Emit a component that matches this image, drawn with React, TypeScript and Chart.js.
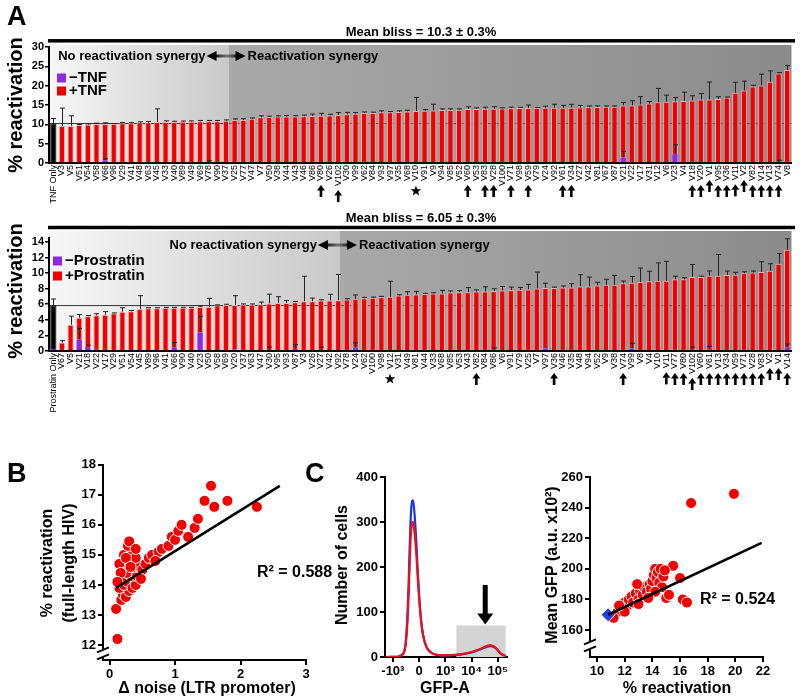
import React, { useEffect, useRef } from 'react';
import { Chart, registerables } from 'chart.js';
Chart.register(...registerables);

const FONT = '"Liberation Sans", Arial, Helvetica, sans-serif';
const RED = '#f00000';
const PURPLE = '#8a2be2';

// ---------------- Panel A (top): TNF ----------------
const tnfLabels = ['TNF Only','V3','V5','V51','V54','V58','V66','V96','V29','V41','V48','V63','V45','V33','V40','V89','V49','V69','V78','V90','V37','V25','V77','V47','V7','V50','V38','V44','V43','V46','V86','V80','V26','V102','V30','V99','V62','V84','V93','V97','V35','V68','V10','V91','V9','V94','V85','V52','V60','V53','V83','V28','V100','V71','V98','V59','V79','V24','V92','V61','V34','V27','V42','V81','V67','V87','V21','V22','V17','V31','V12','V6','V23','V4','V18','V20','V1','V95','V36','V11','V2','V82','V14','V13','V74','V8'];
const tnfPlus = [10.2,9.6,9.6,9.85,9.94,10.1,10.1,10.1,10.28,10.28,10.45,10.45,10.6,10.6,10.6,10.65,10.7,10.8,10.8,10.8,10.95,11.1,11.15,11.45,11.8,11.9,12.0,12.0,12.05,12.1,12.17,12.25,12.3,12.43,12.6,12.75,12.9,12.95,13.1,13.1,13.2,13.35,13.45,13.5,13.6,13.7,13.72,13.8,13.95,13.97,14.05,14.06,14.08,14.14,14.2,14.2,14.22,14.3,14.3,14.3,14.32,14.38,14.4,14.47,14.55,14.56,14.9,14.9,15.16,15.42,15.68,15.85,15.94,16.02,16.19,16.45,16.45,16.54,16.97,18.17,18.78,19.81,20.07,21.02,23.17,24.03];
const tnfPlusErr = [1.3,4.6,2.6,0.1,0.2,0.2,0.3,0.1,0.2,0.2,0.2,0.3,3.4,0.3,0.2,0.2,0.2,0.2,0.2,0.2,0.2,0.3,0.3,0.2,0.4,0.2,0.2,0.3,0.2,0.3,0.5,0.6,0.3,0.6,0.5,0.3,0.3,0.2,0.4,0.2,0.3,0.3,3.5,0.3,1.6,0.3,0.3,0.2,0.6,0.3,0.4,0.5,0.2,0.3,0.2,0.8,0.1,0.4,0.9,0.6,0.85,0.5,0.35,0.3,0.2,0.2,0.77,1.2,2.0,0.5,3.6,1.7,1.0,2.3,1.2,1.5,4.5,0.6,0.1,2.7,2.4,0.3,2.9,2.8,0.2,1.2];
const tnfMinus = [0.2,0.1,0.1,0.1,0.1,0.1,0.8,0.1,0.1,0.1,0.1,0.1,0.1,0.1,0.1,0.1,0.1,0.1,0.3,0.1,0.1,0.1,0.1,0.1,0.3,0.1,0.1,0.1,0.1,0.1,0.2,0.1,0.1,0.1,0.2,0.1,0.1,0.1,0.1,0.1,0.1,0.1,0.1,0.1,0.1,0.1,0.1,0.1,0.2,0.1,0.1,0.1,0.1,0.1,0.1,0.1,0.1,0.1,0.1,0.1,0.1,0.1,0.1,0.1,0.1,0.2,1.5,0.1,0.1,0.1,0.1,0.1,2.4,0.1,0.3,0.1,0.1,0.2,0.1,0.1,0.1,0.1,0.4,0.1,0.4,0.1];
const tnfMinusErr = [0,0,0,0,0,0,0.3,0,0,0,0,0,0,0,0,0,0,0,0.3,0,0,0,0,0,0,0,0,0,0,0,0,0,0,0,0,0,0,0,0,0,0,0,0,0,0,0,0,0,0,0,0,0,0,0,0,0,0,0,0,0,0,0,0,0,0,0,1.5,0,0,0,0,0,2.3,0,0,0,0,0,0,0,0,0,0,0,0.3,0];
const tnfArrows = ['V80','V102','V60','V83','V28','V71','V59','V61','V34','V18','V20','V1','V95','V36','V11','V2','V82','V14','V13','V74'];
const tnfStars = ['V10'];
const tnfTicks = [0,5,10,15,20,25,30];

// ---------------- Panel A (bottom): Prostratin ----------------
const proLabels = ['Prostratin Only','V67','V5','V21','V18','V22','V17','V29','V51','V54','V45','V89','V96','V41','V66','V90','V40','V23','V50','V58','V69','V20','V37','V63','V47','V30','V95','V93','V87','V3','V26','V27','V42','V92','V78','V24','V62','V100','V98','V12','V31','V49','V81','V44','V33','V68','V85','V53','V43','V82','V84','V86','V6','V91','V79','V25','V7','V97','V36','V46','V35','V48','V94','V52','V9','V38','V74','V99','V8','V4','V10','V11','V77','V80','V102','V60','V61','V13','V34','V59','V71','V28','V83','V2','V1','V14'];
const proPlus = [5.83,1.08,3.37,4.27,4.45,4.58,4.65,4.84,5.05,5.1,5.4,5.5,5.5,5.55,5.55,5.55,5.55,5.66,5.66,5.87,5.9,5.9,5.94,5.94,5.98,6.09,6.17,6.17,6.26,6.39,6.39,6.48,6.48,6.52,6.61,6.69,6.78,6.82,6.91,6.95,7.12,7.21,7.25,7.3,7.38,7.38,7.51,7.55,7.55,7.64,7.64,7.68,7.77,7.8,7.85,7.9,8.03,8.1,8.1,8.15,8.15,8.29,8.29,8.42,8.5,8.5,8.68,8.76,8.85,8.94,9.0,9.0,9.2,9.2,9.5,9.5,9.67,9.67,9.76,9.8,9.97,10.06,10.15,10.3,11.2,13.0];
const proPlusErr = [0.85,0.25,1.1,0.4,0.1,0.2,0.4,0.05,0.5,0.1,1.7,0.05,0.05,0.05,0.05,0.05,0.05,0.1,1.1,0.05,0.1,1.2,0.1,0.1,0.3,1.2,0.8,0.3,0.1,3.2,0.4,0.1,0.8,3.3,0.1,0.5,0.1,0.1,0.1,2.0,0.1,0.4,0.4,0.1,0.1,0.4,0.2,0.2,0.6,0.2,0.6,0.3,0.5,0.4,0.3,0.65,2.1,0.6,0.1,0.2,0.5,1.5,1.2,0.4,0.7,1.2,0.3,0.8,1.8,1.3,2.3,2.5,0.4,0.2,1.6,0.1,0.6,2.7,0.5,0.3,0.2,0.2,1.3,0.9,1.3,1.4];
const proMinus = [0.3,0.15,0.05,1.5,0.55,0.3,0.3,0.05,0.05,0.05,0.05,0.05,0.05,0.05,0.5,0.05,0.05,2.45,0.05,0.05,0.05,0.25,0.05,0.05,0.05,0.2,0.05,0.05,0.3,0.2,0.05,0.2,0.05,0.05,0.05,0.45,0.05,0.05,0.05,0.05,0.05,0.05,0.05,0.2,0.05,0.05,0.05,0.05,0.05,0.05,0.05,0.2,0.05,0.05,0.05,0.05,0.05,0.4,0.05,0.05,0.05,0.05,0.05,0.05,0.05,0.05,0.05,0.4,0.05,0.05,0.05,0.05,0.2,0.05,0.2,0.05,0.3,0.05,0.05,0.05,0.2,0.05,0.2,0.05,0.05,0.5];
const proMinusErr = [0,0,0,1.4,0.2,0,0,0,0,0,0,0,0,0,0.6,0,0,2.0,0,0,0,0,0,0,0,0.3,0,0,0.5,0,0,0.3,0,0,0,0.6,0,0,0,0,0,0,0,0,0,0,0,0,0,0,0,0.2,0,0,0,0,0,0,0,0,0,0,0,0,0,0,0,0.6,0,0,0,0,0,0,0.3,0,0.3,0,0,0,0,0,0,0,0,0.4];
const proArrows = ['V82','V36','V74','V11','V77','V80','V102','V60','V61','V13','V34','V59','V71','V28','V83','V2','V1','V14'];
const proStars = ['V12'];
const proTicks = [0,2,4,6,8,10,12,14];

// ---------------- Panel B ----------------
const bNoise = [0.12,0.1,0.18,0.2,0.15,0.25,0.3,0.22,0.28,0.35,0.4,0.18,0.33,0.42,0.2,0.26,0.38,0.15,0.3,0.45,0.22,0.35,0.28,0.3,0.4,0.5,0.55,0.6,0.65,0.75,0.8,0.9,0.95,1.0,1.05,1.1,1.2,1.3,1.35,1.45,1.55,1.6,1.8,2.25,0.25,0.17,0.32,0.4,0.12,0.48,0.7];
const bReact = [12.2,13.2,13.5,13.7,13.9,13.6,13.8,14.0,14.1,13.9,14.0,14.2,14.3,14.3,14.5,14.4,14.6,14.7,14.8,14.6,15.0,15.1,15.3,15.45,14.9,14.5,14.7,14.9,15.0,15.1,15.2,15.3,15.6,15.5,15.8,16.0,15.6,15.9,16.2,16.8,17.3,16.6,16.8,16.6,14.9,14.4,14.6,15.2,14.1,14.2,14.8];
const bFitX = [0.1, 2.6];
const bFitY = [13.9, 17.3];
const bXTicks = [0,1,2,3];
const bYTicks = [12,13,14,15,16,17,18];

// ---------------- Panel C (histogram) ----------------
const cHistTicks = [-1,0,1,2,3];
const cHistTickLabels = ['-10\u00b3','0','10\u00b3','10\u2074','10\u2075'];
const cBlueX = [-1.25,-0.8,-0.6,-0.5,-0.42,-0.35,-0.3,-0.25,-0.2,-0.12,-0.04,0.05,0.15,0.3,0.5,0.8,1.2,1.6,2.0,2.3,2.55,2.75,2.95,3.1,3.3];
const cBlueY = [0,1,8,40,130,260,330,348,335,270,180,100,50,20,8,4,4,6,10,16,22,24,18,8,2];
const cRedX = [-1.25,-0.8,-0.6,-0.5,-0.42,-0.35,-0.3,-0.25,-0.2,-0.12,-0.04,0.05,0.15,0.3,0.5,0.8,1.2,1.6,2.0,2.3,2.55,2.75,2.95,3.1,3.3];
const cRedY = [0,1,7,35,110,220,285,300,290,240,165,95,48,20,8,4,4,6,11,17,24,26,19,8,2];
const cYTicks = [0,100,200,300,400];

// ---------------- Panel C (scatter) ----------------
const dReact = [11.5,11.8,12.0,12.2,12.3,12.5,12.6,12.8,13.0,13.1,13.3,13.4,13.6,13.8,13.9,14.0,14.1,14.2,14.3,14.4,14.5,14.6,14.7,14.8,15.0,15.5,16.0,16.2,16.5,13.0,12.0,11.2,14.2,13.7,15.2,16.8,19.9,12.9,14.9,11.6];
const dGfp = [172,175,178,176,180,182,178,184,180,186,183,188,185,190,187,192,196,200,194,198,191,200,188,195,181,202,194,180,178,177,172,168,185,181,183,243,249,190,199,176];
const dCtrlReact = [10.8];
const dCtrlGfp = [170];
const dFitX = [10.8, 21.9];
const dFitY = [170, 217];
const dXTicks = [10,12,14,16,18,20,22];
const dYTicks = [160,180,200,220,240,260];

// ---------------- helpers ----------------
function vText(ctx: CanvasRenderingContext2D, text: string, cx: number, cy: number, font: string) {
  ctx.save();
  ctx.translate(cx, cy);
  ctx.rotate(-Math.PI / 2);
  ctx.font = font;
  ctx.fillStyle = '#000';
  ctx.textAlign = 'center';
  ctx.textBaseline = 'middle';
  ctx.fillText(text, 0, 0);
  ctx.restore();
}
function hText(ctx: CanvasRenderingContext2D, text: string, x: number, y: number, font: string, align: CanvasTextAlign = 'left') {
  ctx.save();
  ctx.font = font;
  ctx.fillStyle = '#000';
  ctx.textAlign = align;
  ctx.textBaseline = 'middle';
  ctx.fillText(text, x, y);
  ctx.restore();
}
function upArrow(ctx: CanvasRenderingContext2D, x: number, yTop: number) {
  ctx.save();
  ctx.fillStyle = '#000';
  ctx.beginPath();
  ctx.moveTo(x, yTop);
  ctx.lineTo(x - 4, yTop + 5.5);
  ctx.lineTo(x + 4, yTop + 5.5);
  ctx.closePath();
  ctx.fill();
  ctx.fillRect(x - 1.3, yTop + 5, 2.6, 7);
  ctx.restore();
}
function starShape(ctx: CanvasRenderingContext2D, cx: number, cy: number, r: number) {
  ctx.save();
  ctx.fillStyle = '#000';
  ctx.beginPath();
  for (let k = 0; k < 10; k++) {
    const rr = k % 2 === 0 ? r : r * 0.42;
    const ang = -Math.PI / 2 + (k * Math.PI) / 5;
    const px = cx + rr * Math.cos(ang);
    const py = cy + rr * Math.sin(ang);
    if (k === 0) ctx.moveTo(px, py); else ctx.lineTo(px, py);
  }
  ctx.closePath();
  ctx.fill();
  ctx.restore();
}
function yBreak(ctx: CanvasRenderingContext2D, x: number, y: number) {
  ctx.save();
  ctx.fillStyle = '#fff';
  ctx.fillRect(x - 3, y - 4, 6, 8);
  ctx.strokeStyle = '#000';
  ctx.lineWidth = 2;
  ctx.beginPath();
  ctx.moveTo(x - 6, y - 1); ctx.lineTo(x + 6, y - 6);
  ctx.moveTo(x - 6, y + 6); ctx.lineTo(x + 6, y + 1);
  ctx.stroke();
  ctx.restore();
}

type BarCfg = {
  labels: string[]; plus: number[]; plusErr: number[]; minus: number[]; minusErr: number[];
  yMax: number; yTicks: number[]; padTop: number; height: number; areaBottom: number;
  boundary: number; legendA: string; legendB: string; header: string;
  headerLineY: number; headerTextY: number; bgTop: number; synY: number; legY: number[]; legX: number;
  titleY: number; arrows: string[]; stars: string[];
};

function barChart(canvas: HTMLCanvasElement, c: BarCfg) {
  const deco = {
    id: 'barDeco',
    beforeDraw(chart: any) {
      const { ctx, chartArea: a, scales: { x, y } } = chart;
      const bx = x.getPixelForValue(c.boundary);
      ctx.save();
      let g = ctx.createLinearGradient(a.left, 0, bx, 0);
      g.addColorStop(0, '#f7f7f7');
      g.addColorStop(1, '#c9c9c9');
      ctx.fillStyle = g;
      ctx.fillRect(a.left, c.bgTop, bx - a.left, a.bottom - c.bgTop);
      g = ctx.createLinearGradient(bx, 0, a.right, 0);
      g.addColorStop(0, '#a9a9a9');
      g.addColorStop(1, '#8b8b8b');
      ctx.fillStyle = g;
      ctx.fillRect(bx, c.bgTop, a.right - bx, a.bottom - c.bgTop);
      const yc = y.getPixelForValue(c.plus[0]);
      ctx.strokeStyle = '#333';
      ctx.lineWidth = 1;
      ctx.beginPath(); ctx.moveTo(a.left, yc); ctx.lineTo(bx, yc); ctx.stroke();
      ctx.setLineDash([4, 3]);
      ctx.strokeStyle = '#555';
      ctx.beginPath(); ctx.moveTo(bx, yc); ctx.lineTo(a.right, yc); ctx.stroke();
      ctx.restore();
    },
    afterDatasetsDraw(chart: any) {
      const { ctx, scales: { y } } = chart;
      const sets = [[1, c.plus, c.plusErr], [0, c.minus, c.minusErr]] as const;
      ctx.save();
      ctx.strokeStyle = '#222';
      ctx.lineWidth = 1;
      sets.forEach(([di, vals, errs]) => {
        const meta = chart.getDatasetMeta(di);
        meta.data.forEach((el: any, i: number) => {
          const e = errs[i];
          if (!e) return;
          const x = Math.round(el.x) + 0.5;
          const y0 = y.getPixelForValue(vals[i]);
          const y1 = y.getPixelForValue(vals[i] + e);
          ctx.beginPath();
          ctx.moveTo(x, y0); ctx.lineTo(x, y1);
          ctx.moveTo(x - 2.5, y1); ctx.lineTo(x + 2.5, y1);
          ctx.stroke();
        });
      });
      ctx.restore();
    },
    afterDraw(chart: any) {
      const { ctx, scales: { x } } = chart;
      ctx.save();
      ctx.fillStyle = '#000';
      ctx.fillRect(48, c.headerLineY - 1.75, 747, 3.5);
      ctx.restore();
      hText(ctx, c.header, 421, c.headerTextY, `bold 13px ${FONT}`, 'center');
      const bx = x.getPixelForValue(c.boundary);
      hText(ctx, 'No reactivation synergy', bx - 23, c.synY, `bold 13px ${FONT}`, 'right');
      hText(ctx, 'Reactivation synergy', bx + 19, c.synY, `bold 13px ${FONT}`, 'left');
      ctx.save();
      const g = ctx.createLinearGradient(bx - 12, 0, bx + 8, 0);
      g.addColorStop(0, '#222'); g.addColorStop(0.5, '#777'); g.addColorStop(1, '#222');
      ctx.fillStyle = g;
      ctx.fillRect(bx - 14, c.synY - 1.5, 24, 3);
      ctx.fillStyle = '#000';
      ctx.beginPath();
      ctx.moveTo(bx - 22, c.synY); ctx.lineTo(bx - 12, c.synY - 5); ctx.lineTo(bx - 12, c.synY + 5); ctx.closePath(); ctx.fill();
      ctx.beginPath();
      ctx.moveTo(bx + 17, c.synY); ctx.lineTo(bx + 7, c.synY - 5); ctx.lineTo(bx + 7, c.synY + 5); ctx.closePath(); ctx.fill();
      ctx.restore();
      ctx.save();
      ctx.fillStyle = PURPLE;
      ctx.fillRect(c.legX, c.legY[0] - 4.5, 9, 9);
      ctx.fillStyle = RED;
      ctx.fillRect(c.legX, c.legY[1] - 4.5, 9, 9);
      ctx.restore();
      hText(ctx, c.legendA, c.legX + 12, c.legY[0], `bold 15px ${FONT}`);
      hText(ctx, c.legendB, c.legX + 12, c.legY[1], `bold 15px ${FONT}`);
      vText(ctx, '% reactivation', 16, c.titleY, `bold 20px ${FONT}`);
      ctx.save();
      ctx.font = `9px ${FONT}`;
      const labelTop = x.top + 2;
      c.arrows.forEach((l) => {
        const i = c.labels.indexOf(l);
        if (i < 0) return;
        const w = ctx.measureText(l).width;
        upArrow(ctx, x.getPixelForTick(i), labelTop + w + 4);
      });
      c.stars.forEach((l) => {
        const i = c.labels.indexOf(l);
        if (i < 0) return;
        const w = ctx.measureText(l).width;
        starShape(ctx, x.getPixelForTick(i), labelTop + w + 10, 5.5);
      });
      ctx.restore();
    },
  };
  return new Chart(canvas, {
    type: 'bar',
    data: {
      labels: c.labels,
      datasets: [
        { label: c.legendA, data: c.minus, backgroundColor: PURPLE, borderColor: '#e8d8ff', borderWidth: 0.5, grouped: false, barPercentage: 0.72, categoryPercentage: 1 } as any,
        { label: c.legendB, data: c.plus, backgroundColor: c.plus.map((_, i) => (i === 0 ? '#000' : RED)), borderColor: c.plus.map((_, i) => (i === 0 ? '#000' : '#ffb0b0')), borderWidth: 1, borderSkipped: 'bottom', grouped: false, barPercentage: 0.72, categoryPercentage: 1 } as any,
      ],
    },
    options: {
      animation: false,
      responsive: false,
      maintainAspectRatio: false,
      layout: { padding: { top: c.padTop, right: 5, left: 0, bottom: 0 } },
      plugins: { legend: { display: false }, tooltip: { enabled: false } },
      scales: {
        x: {
          grid: { display: false, drawTicks: false },
          border: { display: true, color: '#000', width: 2 },
          ticks: { autoSkip: false, minRotation: 90, maxRotation: 90, padding: 2, color: '#000', font: { size: 9, family: FONT } },
          afterFit: (s: any) => { s.height = c.height - c.areaBottom; },
        },
        y: {
          min: 0,
          max: c.yMax,
          afterBuildTicks: (s: any) => { s.ticks = c.yTicks.map((v) => ({ value: v })); },
          grid: { drawOnChartArea: false, drawTicks: true, tickLength: 4, color: '#000', lineWidth: 1.5 },
          border: { display: true, color: '#000', width: 2 },
          ticks: { autoSkip: false, padding: 1, color: '#000', font: { size: 11, weight: 'bold', family: FONT } },
          afterFit: (s: any) => { s.width = 49; },
        },
      },
    } as any,
    plugins: [deco],
  });
}

function axisOpts(min: number, max: number, ticks: number[], width: number | null, height: number | null, labels?: string[]) {
  return {
    type: 'linear',
    min, max,
    afterBuildTicks: (s: any) => { s.ticks = ticks.map((v) => ({ value: v })); },
    grid: { drawOnChartArea: false, drawTicks: true, tickLength: 5, color: '#000', lineWidth: 2 },
    border: { display: true, color: '#000', width: 2 },
    ticks: {
      autoSkip: false, maxRotation: 0, padding: 2, color: '#000', font: { size: 13, weight: 'bold', family: FONT },
      callback: (v: number) => {
        if (labels) { const k = ticks.indexOf(v); return k >= 0 ? labels[k] : ''; }
        return String(v);
      },
    },
    afterFit: (s: any) => { if (width !== null) s.width = width; if (height !== null) s.height = height; },
  };
}

function scatterB(canvas: HTMLCanvasElement) {
  const pts = bNoise.map((v, i) => ({ x: v, y: bReact[i] }));
  const fit = bFitX.map((v, i) => ({ x: v, y: bFitY[i] }));
  const deco = {
    id: 'bDeco',
    afterDraw(chart: any) {
      const { ctx, chartArea: a, scales: { y } } = chart;
      yBreak(ctx, a.left, y.getPixelForValue(11.72));
      vText(ctx, '% reactivation', 48, 108, `bold 16px ${FONT}`);
      vText(ctx, '(full-length HIV)', 70, 108, `bold 16px ${FONT}`);
      hText(ctx, 'Δ noise (LTR promoter)', 207, 234, `bold 16px ${FONT}`, 'center');
      hText(ctx, 'R\u00b2 = 0.588', 257, 118, `bold 16px ${FONT}`);
    },
  };
  return new Chart(canvas, {
    type: 'scatter',
    data: {
      datasets: [
        { data: fit, showLine: true, borderColor: '#000', borderWidth: 2.5, pointRadius: 0 } as any,
        { data: pts, backgroundColor: RED, borderColor: '#fff', borderWidth: 1, pointRadius: 5.5 } as any,
      ],
    },
    options: {
      animation: false, responsive: false, maintainAspectRatio: false,
      layout: { padding: { top: 9, right: 39, left: 0, bottom: 0 } },
      plugins: { legend: { display: false }, tooltip: { enabled: false } },
      scales: {
        x: axisOpts(-0.1, 3, bXTicks, null, 40),
        y: axisOpts(11.5, 18, bYTicks, 103, null),
      },
    } as any,
    plugins: [deco],
  });
}

function histC(canvas: HTMLCanvasElement) {
  const blue = cBlueX.map((v, i) => ({ x: v, y: cBlueY[i] }));
  const red = cRedX.map((v, i) => ({ x: v, y: cRedY[i] }));
  const deco = {
    id: 'cDeco',
    beforeDatasetsDraw(chart: any) {
      const { ctx, scales: { x, y } } = chart;
      ctx.save();
      ctx.fillStyle = '#d4d4d4';
      const x0 = x.getPixelForValue(1.42), x1 = x.getPixelForValue(3.3);
      const y0 = y.getPixelForValue(70), y1 = y.getPixelForValue(0);
      ctx.fillRect(x0, y0, x1 - x0, y1 - y0);
      ctx.restore();
    },
    afterDraw(chart: any) {
      const { ctx, scales: { x, y } } = chart;
      const ax = x.getPixelForValue(2.52);
      const yt = y.getPixelForValue(160), yb = y.getPixelForValue(72);
      ctx.save();
      ctx.fillStyle = '#000';
      ctx.fillRect(ax - 2.5, yt, 5, yb - yt - 9);
      ctx.beginPath();
      ctx.moveTo(ax - 8, yb - 11); ctx.lineTo(ax + 8, yb - 11); ctx.lineTo(ax, yb); ctx.closePath(); ctx.fill();
      ctx.restore();
      vText(ctx, 'Number of cells', 23, 110, `bold 16px ${FONT}`);
      hText(ctx, 'GFP-A', 125, 234, `bold 16px ${FONT}`, 'center');
    },
  };
  return new Chart(canvas, {
    type: 'scatter',
    data: {
      datasets: [
        { data: red, showLine: true, borderColor: '#ee1111', borderWidth: 2.2, pointRadius: 0, tension: 0.4 } as any,
        { data: blue, showLine: true, borderColor: '#1a33ee', borderWidth: 2.2, pointRadius: 0, tension: 0.4 } as any,
      ],
    },
    options: {
      animation: false, responsive: false, maintainAspectRatio: false,
      layout: { padding: { top: 22, right: 13, left: 0, bottom: 0 } },
      plugins: { legend: { display: false }, tooltip: { enabled: false } },
      scales: {
        x: axisOpts(-1.3, 3.35, cHistTicks, null, 43, cHistTickLabels),
        y: axisOpts(0, 400, cYTicks, 65, null),
      },
    } as any,
    plugins: [deco],
  });
}

function scatterD(canvas: HTMLCanvasElement) {
  const pts = dReact.map((v, i) => ({ x: v, y: dGfp[i] }));
  const ctrl = dCtrlReact.map((v, i) => ({ x: v, y: dCtrlGfp[i] }));
  const fit = dFitX.map((v, i) => ({ x: v, y: dFitY[i] }));
  const deco = {
    id: 'dDeco',
    afterDraw(chart: any) {
      const { ctx, chartArea: a, scales: { y } } = chart;
      yBreak(ctx, a.left, y.getPixelForValue(150));
      vText(ctx, 'Mean GFP (a.u. x10\u00b2)', 33, 110, `bold 16px ${FONT}`);
      hText(ctx, '% reactivation', 157, 234, `bold 16px ${FONT}`, 'center');
      hText(ctx, 'R\u00b2 = 0.524', 180, 145, `bold 16px ${FONT}`);
    },
  };
  return new Chart(canvas, {
    type: 'scatter',
    data: {
      datasets: [
        { data: fit, showLine: true, borderColor: '#000', borderWidth: 2.5, pointRadius: 0 } as any,
        { data: ctrl, backgroundColor: '#2040e0', borderColor: '#fff', borderWidth: 1, pointRadius: 7, pointStyle: 'rectRot' } as any,
        { data: pts, backgroundColor: RED, borderColor: '#fff', borderWidth: 1, pointRadius: 5.5 } as any,
      ],
    },
    options: {
      animation: false, responsive: false, maintainAspectRatio: false,
      layout: { padding: { top: 22, right: 37, left: 0, bottom: 0 } },
      plugins: { legend: { display: false }, tooltip: { enabled: false } },
      scales: {
        x: axisOpts(9.49, 22, dXTicks, null, 43),
        y: axisOpts(142.4, 260, dYTicks, 70, null),
      },
    } as any,
    plugins: [deco],
  });
}

export default function App() {
  const r1 = useRef<HTMLCanvasElement>(null);
  const r2 = useRef<HTMLCanvasElement>(null);
  const r3 = useRef<HTMLCanvasElement>(null);
  const r4 = useRef<HTMLCanvasElement>(null);
  const r5 = useRef<HTMLCanvasElement>(null);

  useEffect(() => {
    const charts: Chart[] = [];
    charts.push(barChart(r1.current!, {
      labels: tnfLabels, plus: tnfPlus, plusErr: tnfPlusErr, minus: tnfMinus, minusErr: tnfMinusErr,
      yMax: 30, yTicks: tnfTicks, padTop: 47, height: 215, areaBottom: 163, boundary: 20.3,
      legendA: '\u2212TNF', legendB: '+TNF', header: 'Mean bliss = 10.3 \u00b1 0.3%',
      headerLineY: 40.8, headerTextY: 32, bgTop: 45, synY: 56, legY: [78, 91], legX: 57,
      titleY: 105, arrows: tnfArrows, stars: tnfStars,
    }));
    charts.push(barChart(r2.current!, {
      labels: proLabels, plus: proPlus, plusErr: proPlusErr, minus: proMinus, minusErr: proMinusErr,
      yMax: 14.5, yTicks: proTicks, padTop: 33, height: 250, areaBottom: 146, boundary: 33.2,
      legendA: '\u2212Prostratin', legendB: '+Prostratin', header: 'Mean bliss = 6.05 \u00b1 0.3%',
      headerLineY: 22.5, headerTextY: 13.5, bgTop: 26, synY: 40, legY: [56, 71], legX: 53,
      titleY: 86, arrows: proArrows, stars: proStars,
    }));
    charts.push(scatterB(r3.current!));
    charts.push(histC(r4.current!));
    charts.push(scatterD(r5.current!));
    return () => charts.forEach((ch) => ch.destroy());
  }, []);

  const abs = (l: number, t: number): React.CSSProperties => ({ position: 'absolute', left: l, top: t, display: 'block' });
  const letter = (l: number, t: number): React.CSSProperties => ({ position: 'absolute', left: l, top: t, font: `bold 27px ${FONT}`, color: '#000', lineHeight: '30px' });

  return (
    <div style={{ position: 'absolute', left: 0, top: 0, width: 800, height: 700, background: '#fff', overflow: 'hidden' }}>
      <canvas ref={r1} width={800} height={215} style={abs(0, 0)} />
      <canvas ref={r2} width={800} height={250} style={abs(0, 205)} />
      <canvas ref={r3} width={345} height={245} style={abs(0, 455)} />
      <canvas ref={r4} width={200} height={245} style={abs(320, 455)} />
      <canvas ref={r5} width={280} height={245} style={abs(520, 455)} />
      <div style={letter(7, 1)}>A</div>
      <div style={letter(7, 458)}>B</div>
      <div style={letter(305, 458)}>C</div>
    </div>
  );
}
